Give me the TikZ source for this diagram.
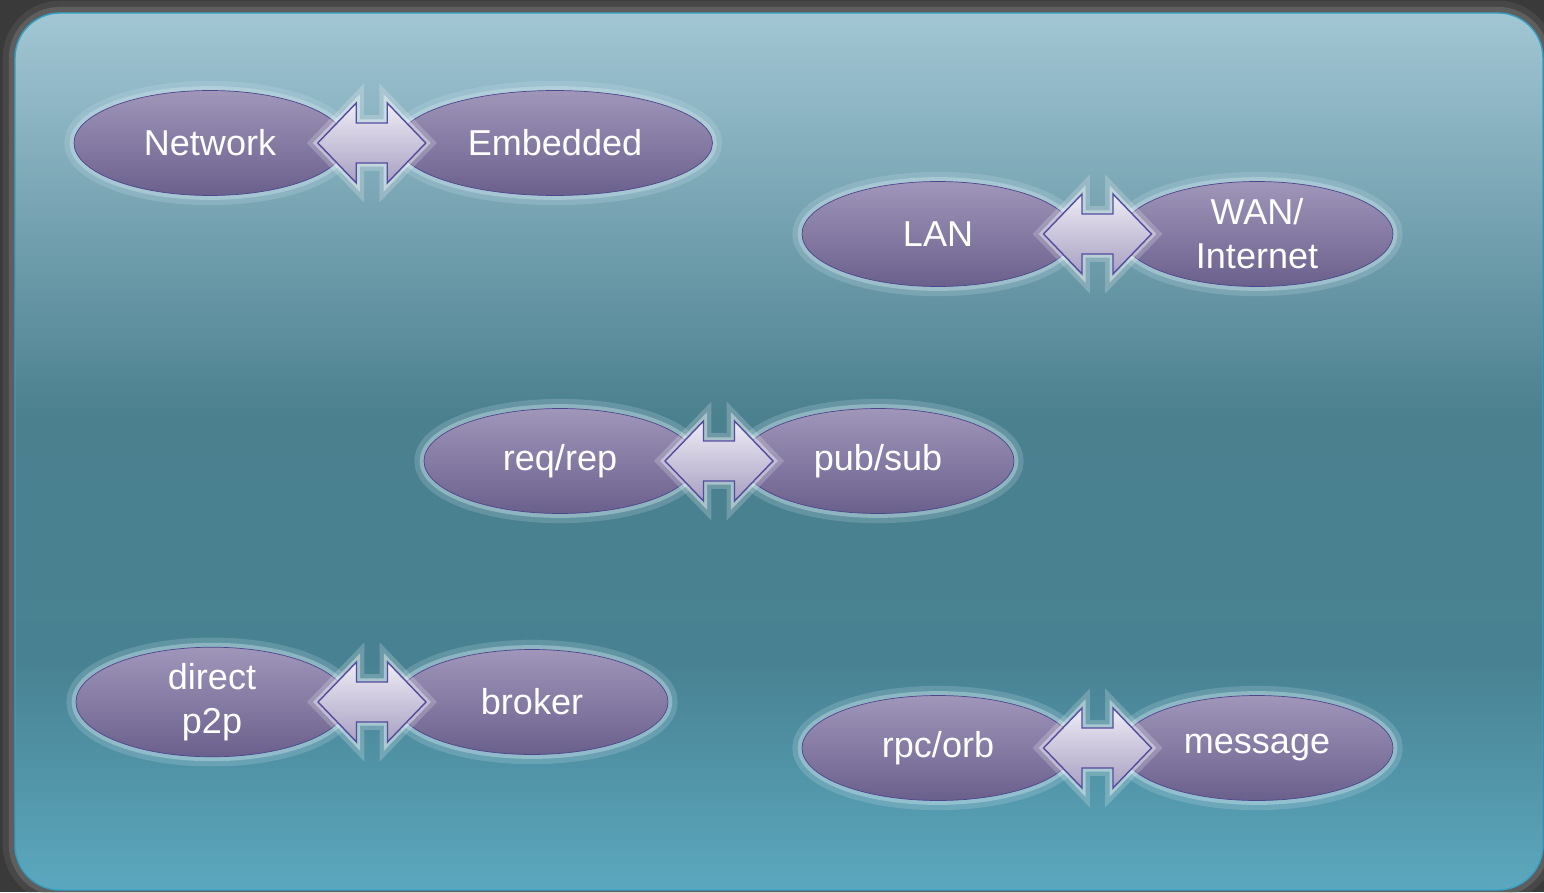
\documentclass[tikz,border=0pt]{standalone}
\usepackage{fontspec}
\setmainfont{Liberation Sans}
\usetikzlibrary{shapes.geometric,calc}

\definecolor{framegray}{RGB}{58,58,58}
\definecolor{framelight}{RGB}{150,150,150}
\definecolor{panelrim}{RGB}{52,160,196}
\definecolor{ptop}{RGB}{162,198,212}
\definecolor{pmid}{RGB}{75,128,143}
\definecolor{plow}{RGB}{72,130,146}
\definecolor{pbot}{RGB}{92,168,190}
\definecolor{ovalline}{RGB}{78,70,140}
\definecolor{ovaltop}{RGB}{160,150,186}
\definecolor{ovalmid}{RGB}{100,92,130}
\definecolor{ovalbot}{RGB}{106,96,140}
\definecolor{arrowline}{RGB}{84,76,160}
\definecolor{arrowtop}{RGB}{238,236,245}
\definecolor{arrowbot}{RGB}{168,160,194}
\definecolor{halo}{RGB}{205,228,238}

\pgfdeclareverticalshading{panelshade}{100bp}{color(0bp)=(pbot); color(25bp)=(pbot); color(38bp)=(plow); color(52bp)=(pmid); color(75bp)=(ptop); color(100bp)=(ptop)}

\begin{document}
\begin{tikzpicture}[x=0.02cm, y=-0.02cm,
  oval/.style={shape=ellipse, draw=ovalline, thin, top color=ovaltop, middle color=ovalmid, bottom color=ovalbot,
    minimum width=5.44cm, minimum height=2.1cm, inner sep=0pt, text=white, align=center,
    font=\fontsize{20.5}{25}\selectfont,
    preaction={draw=halo, line width=11pt, draw opacity=0.2},
    preaction={draw=halo, line width=5pt, draw opacity=0.4}},
  swapline/.style={draw=arrowline, thick, top color=arrowtop, bottom color=arrowbot,
    preaction={draw=white, line width=9pt, draw opacity=0.2},
    preaction={draw=white, line width=4pt, draw opacity=0.4}},
  swap/.pic={\draw[swapline] (-54,0) -- (-15.5,-40) -- (-15.5,-20) -- (15.5,-20) -- (15.5,-40) -- (54,0)
    -- (15.5,40) -- (15.5,20) -- (-15.5,20) -- (-15.5,40) -- cycle;}]
\fill[framegray] (0,0) rectangle (1544,892);
\useasboundingbox (0,0) rectangle (1544,892);
\draw[framelight, line width=14pt, draw opacity=0.15, rounded corners=0.9cm] (15,13) rectangle (1543,890);
\draw[framelight, line width=7pt, draw opacity=0.3, rounded corners=0.9cm] (15,13) rectangle (1543,890);
\shade[shading=panelshade, rounded corners=0.9cm] (15,13) rectangle (1543,890);
\draw[panelrim, thick, rounded corners=0.9cm] (15,13) rectangle (1543,890);

\node[oval] (net) at (210,143) {Network};
\node[oval, minimum width=6.3cm] (emb) at (555,143) {Embedded};
\node[oval] (lan) at (938,234) {LAN};
\node[oval] (wan) at (1257,234) {WAN/\\Internet};
\node[oval] (req) at (560,461) {req/rep};
\node[oval] (pub) at (878,461) {pub/sub};
\node[oval] (p2p) at (212,702) {direct\\p2p};
\node[oval] (brk) at (532,702) {broker};
\node[oval] (rpc) at (938,748) {rpc/orb};
\node[oval] (msg) at (1257,748) {message};

\pic (a1) at ($(net.east)!0.5!(emb.west)$) {swap};
\pic (a2) at ($(lan.east)!0.5!(wan.west)$) {swap};
\pic (a3) at ($(req.east)!0.5!(pub.west)$) {swap};
\pic (a4) at ($(p2p.east)!0.5!(brk.west)$) {swap};
\pic (a5) at ($(rpc.east)!0.5!(msg.west)$) {swap};
\end{tikzpicture}
\end{document}
